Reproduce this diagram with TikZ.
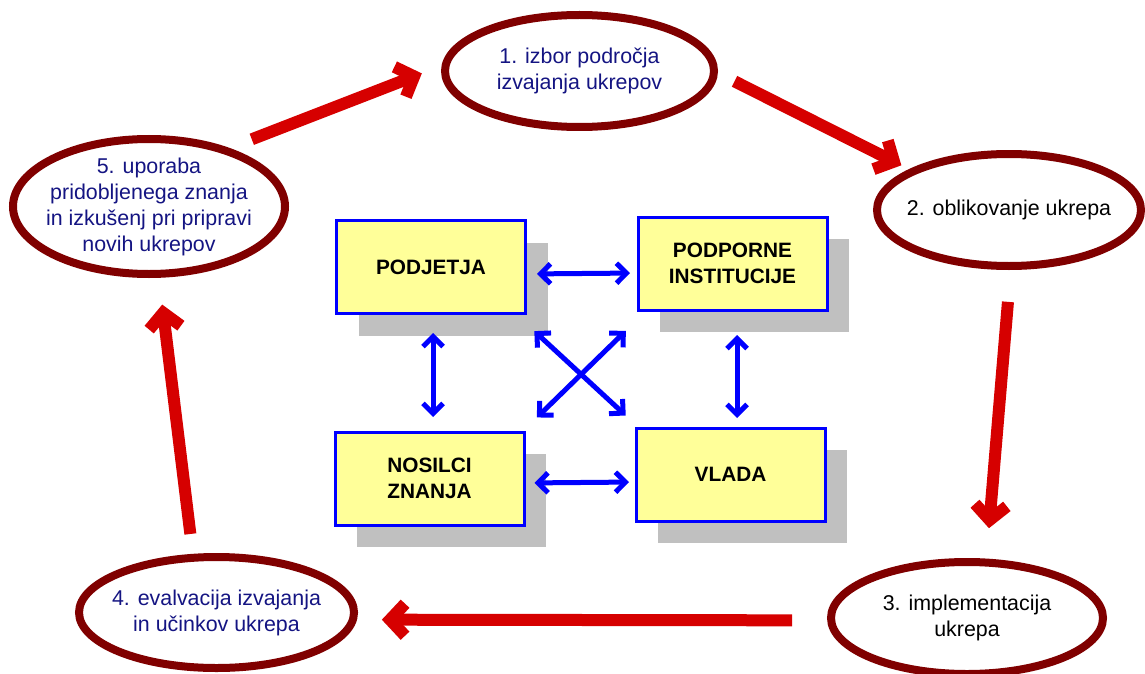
\documentclass[tikz,border=0pt]{standalone}
\usepackage{fontspec}
\setmainfont{Liberation Sans}
\usetikzlibrary{shapes.geometric,arrows.meta,shadows}

\definecolor{ringred}{RGB}{128,0,0}
\definecolor{flowred}{RGB}{214,0,0}
\definecolor{textnavy}{RGB}{20,20,130}
\definecolor{linkblue}{RGB}{0,0,255}
\definecolor{boxyellow}{RGB}{255,255,153}
\definecolor{shadowgray}{RGB}{192,192,192}

\tikzset{
    stage/.style={ellipse, draw=ringred, line width=8pt, outer sep=0pt, inner sep=-10pt,
        align=center, font=\fontsize{21.4}{26}\selectfont},
    actor/.style={rectangle, draw=linkblue, line width=3pt, fill=boxyellow, outer sep=0pt,
        minimum width=189pt, minimum height=93pt, align=center,
        font=\bfseries\fontsize{20.8}{26}\selectfont,
        drop shadow={shadow xshift=22pt, shadow yshift=-22pt, fill=shadowgray, opacity=1}},
    flow/.style={draw=flowred, line width=12pt, -{Straight Barb[sharp, length=15pt, width=32pt]}},
    link/.style={draw=linkblue, line width=5pt,
        {Straight Barb[sharp, length=10pt, width=20pt]}-{Straight Barb[sharp, length=10pt, width=20pt]}}
}

\begin{document}
\begin{tikzpicture}[x=1pt, y=-1pt]
    \useasboundingbox (0,0) rectangle (1145,674);          % same page as the reference

    % the five stages of the cycle
    \node [stage, text=textnavy, minimum width=269pt, minimum height=112pt] (e1) at (579.5,71)
        {1. izbor področja\\izvajanja ukrepov};
    \node [stage, minimum width=264pt, minimum height=112pt] (e2) at (1009,210)
        {2. oblikovanje ukrepa};
    \node [stage, minimum width=272pt, minimum height=112pt] (e3) at (967,618)
        {3. implementacija\\ukrepa};
    \node [stage, text=textnavy, minimum width=275pt, minimum height=111pt] (e4) at (216.5,612.5)
        {4. evalvacija izvajanja\\in učinkov ukrepa};
    \node [stage, text=textnavy, minimum width=272pt, minimum height=135pt] (e5) at (149,206.5)
        {5. uporaba\\pridobljenega znanja\\in izkušenj pri pripravi\\novih ukrepov};

    % red arrows round the cycle
\foreach \from/\to/\s/\t in {e5.37/e1.177/30pt/26pt, e1.0/e2.158/23pt/13.5pt,
        e2.272/e3.71/36pt/34.5pt, e3.181/e4.357/39pt/29pt, e4.113/e5.278/24pt/31pt}
    \draw [flow, shorten <=\s, shorten >=\t] (\from) -- (\to);

    % the four actors in the middle
    \node [actor] (pod) at (431,267)   {PODJETJA};
    \node [actor] (pp)  at (732.5,263.5) {PODPORNE\\INSTITUCIJE};
    \node [actor] (nos) at (429.5,478.5) {NOSILCI\\ZNANJA};
    \node [actor] (vl)  at (730.5,474.5) {VLADA};

    % blue links between the actors
    \draw [link, shorten <=11.5pt, shorten >=8pt] ([yshift=-7pt]pod.east) -- ([yshift=-9.5pt]pp.west);
    \draw [link, shorten <=10.5pt, shorten >=7pt] ([yshift=-4.5pt]nos.east) -- ([yshift=-7.5pt]vl.west);
    \draw [link, shorten <=19.5pt, shorten >=15pt] ([xshift=2pt]pod.south) -- ([xshift=3.5pt]nos.north);
    \draw [link, shorten <=25pt, shorten >=10pt] ([xshift=4.5pt]pp.south) -- ([xshift=6.5pt]vl.north);
    \draw [link, shorten <=12pt, shorten >=14pt] ([yshift=-9.5pt]pod.south east) -- ([yshift=3pt]vl.north west);
    \draw [link, shorten <=17pt, shorten >=18pt] ([yshift=-9pt]pp.south west) -- ([yshift=2pt]nos.north east);

\end{tikzpicture}
\end{document}
